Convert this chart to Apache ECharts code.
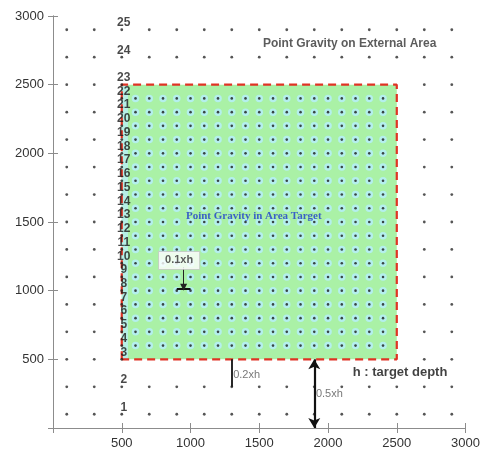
<!DOCTYPE html>
<html>
<head>
<meta charset="utf-8">
<script src="https://cdn.jsdelivr.net/npm/echarts@6/dist/echarts.min.js"></script>
<style>
  html, body { margin: 0; padding: 0; background: #fff; }
  #chart { width: 483px; height: 455px; }
</style>
</head>
<body>
<div id="chart"></div>
<script>
// Survey layout: coarse grid outside the target, dense grid inside it
const outerCoords = [100, 300, 500, 700, 900, 1100, 1300, 1500, 1700, 1900, 2100, 2300, 2500, 2700, 2900];
const innerCoords = [600, 700, 800, 900, 1000, 1100, 1200, 1300, 1400, 1500, 1600, 1700, 1800, 1900, 2000, 2100, 2200, 2300, 2400];

// Numbered stations along the x = 500 profile
const stationX = 500;
const stationNumbers = [1, 2, 3, 4, 5, 6, 7, 8, 9, 10, 11, 12, 13, 14, 15, 16, 17, 18, 19, 20, 21, 22, 23, 24, 25];
const stationY = [100, 300, 500, 600, 700, 800, 900, 1000, 1100, 1200, 1300, 1400, 1500, 1600, 1700, 1800, 1900, 2000, 2100, 2200, 2300, 2400, 2500, 2700, 2900];

// Target area bounds
const targetX = [500, 2500];
const targetY = [500, 2500];

// Axis tick labels
const tickValues = [0, 500, 1000, 1500, 2000, 2500, 3000];
const tickLabels = ['', '500', '1000', '1500', '2000', '2500', '3000'];

// Annotations
const spacingMark = { x: [900, 1000], y: 1015, arrowX: 950, arrowTop: 1170, boxX: 917, boxY: 1220, text: '0.1xh' };
const edgeMark = { x: 1300, y: [500, 300], text: '0.2xh', labelX: 1310, labelY: 385 };
const depthMark = { x: 1900, y: [500, 0], text: '0.5xh', labelX: 1912, labelY: 250 };
const depthNote = { x: 2180, y: 408, text: 'h : target depth' };
const outerTitle = { x: 2157, y: 2797, text: 'Point Gravity on External Area' };
const innerTitle = { x: 1460, y: 1546, text: 'Point Gravity in Area Target' };

const SANS = "'Liberation Sans', Arial, sans-serif";
const SERIF = "'Liberation Serif', 'Times New Roman', serif";

const inTarget = (x, y) => x >= targetX[0] && x <= targetX[1] && y >= targetY[0] && y <= targetY[1];

const outerPoints = [];
outerCoords.forEach(x => outerCoords.forEach(y => {
  if (x !== stationX && !inTarget(x, y)) outerPoints.push([x, y]);
}));
const innerPoints = [];
innerCoords.forEach(x => innerCoords.forEach(y => innerPoints.push([x, y])));
const stationPoints = stationY.map((y, i) => [stationX, y, stationNumbers[i]]);

const tickFmt = v => { const i = tickValues.indexOf(v); return i >= 0 ? tickLabels[i] : ''; };

const axisCommon = {
  type: 'value', min: 0, max: 3000, interval: 500,
  axisLine: { show: true, lineStyle: { color: '#8c8c8c', width: 1 } },
  axisTick: { show: true, inside: false, length: 5, lineStyle: { color: '#8c8c8c' } },
  splitLine: { show: false }
};

const textLabel = (t, extra) => Object.assign({
  show: true, formatter: t, position: 'right', distance: 0, fontFamily: SANS
}, extra);

const chart = echarts.init(document.getElementById('chart'), null, { renderer: 'canvas' });
chart.setOption({
  animation: false,
  backgroundColor: '#ffffff',
  grid: { left: 53, right: 17, top: 16, bottom: 27, containLabel: false },
  xAxis: [
    Object.assign({}, axisCommon, {
      position: 'bottom',
      axisLabel: { formatter: tickFmt, color: '#333', fontSize: 13, margin: 9, fontFamily: SANS }
    }),
    Object.assign({}, axisCommon, { position: 'top', axisLabel: { show: false } })
  ],
  yAxis: [
    Object.assign({}, axisCommon, {
      position: 'left',
      axisLabel: { formatter: tickFmt, color: '#333', fontSize: 13, margin: 9, fontFamily: SANS }
    }),
    Object.assign({}, axisCommon, { position: 'right', axisLabel: { show: false } })
  ],
  series: [
    // target area fill
    {
      type: 'line', data: [], z: 1,
      markArea: {
        silent: true,
        data: [
          [{ coord: [targetX[0], targetY[0]], itemStyle: { color: '#aaf1a6' } }, { coord: [targetX[1], targetY[1]] }],
          [{ coord: [targetX[0], targetY[0]], itemStyle: { color: '#b6efe6' } }, { coord: [targetX[0] + 45, targetY[1]] }]
        ]
      }
    },
    // halos around the dense points
    {
      type: 'scatter', data: innerPoints, symbolSize: 7.5, z: 2, silent: true,
      itemStyle: { color: '#b4efee', opacity: 1 }
    },
    {
      type: 'scatter', data: innerPoints, symbolSize: 2.6, z: 3, silent: true,
      itemStyle: { color: '#1a1a1a' }
    },
    {
      type: 'scatter', data: outerPoints, symbolSize: 2.8, z: 3, silent: true,
      itemStyle: { color: '#2a2a2a' }
    },
    // dashed outline of the target
    {
      type: 'line', z: 4, symbol: 'none', silent: true,
      data: [[targetX[0], targetY[0]], [targetX[0], targetY[1]], [targetX[1], targetY[1]], [targetX[1], targetY[0]], [targetX[0], targetY[0]]],
      lineStyle: { color: '#df3324', width: 2.2, type: [8, 5] }
    },
    // numbered stations
    {
      type: 'scatter', data: stationPoints, symbolSize: 2.8, z: 6, silent: true,
      itemStyle: { color: '#222' },
      label: {
        show: true, position: 'inside', offset: [2, -7],
        formatter: p => String(p.data[2]),
        color: '#1a1a1a', fontSize: 12, fontWeight: 'bold', fontFamily: SANS
      }
    },
    // annotation lines
    {
      type: 'line', data: [], z: 7, silent: true,
      markLine: {
        silent: true, animation: false, label: { show: false },
        data: [
          [{ coord: [spacingMark.x[0], spacingMark.y], symbol: 'none', lineStyle: { color: '#111', width: 2, type: 'solid' } },
           { coord: [spacingMark.x[1], spacingMark.y], symbol: 'none' }],
          [{ coord: [spacingMark.arrowX, spacingMark.arrowTop], symbol: 'none', lineStyle: { color: '#222', width: 1, type: 'solid' } },
           { coord: [spacingMark.arrowX, spacingMark.y + 10], symbol: 'triangle', symbolSize: [7, 7], symbolRotate: 180 }],
          [{ coord: [edgeMark.x, edgeMark.y[0]], symbol: 'none', lineStyle: { color: '#111', width: 1.8, type: 'solid' } },
           { coord: [edgeMark.x, edgeMark.y[1]], symbol: 'none' }],
          [{ coord: [depthMark.x, depthMark.y[0]], symbol: 'arrow', symbolSize: [9, 10], lineStyle: { color: '#111', width: 2.2, type: 'solid' } },
           { coord: [depthMark.x, depthMark.y[1]], symbol: 'arrow', symbolSize: [9, 10] }]
        ]
      }
    },
    // text annotations
    {
      type: 'scatter', z: 8, silent: true, symbolSize: 0,
      data: [
        { value: [outerTitle.x, outerTitle.y], label: textLabel(outerTitle.text, { position: 'inside', fontSize: 12, fontWeight: 'bold', color: '#333' }) },
        { value: [innerTitle.x, innerTitle.y], label: textLabel(innerTitle.text, { position: 'inside', fontSize: 11, fontWeight: 'bold', color: '#1d3ccf', fontFamily: SERIF }) },
        { value: [spacingMark.boxX, spacingMark.boxY], label: textLabel(spacingMark.text, { position: 'inside', fontSize: 11, fontWeight: 'bold', color: '#333', backgroundColor: '#ffffff', borderColor: '#c8c8c8', borderWidth: 1, padding: [3, 6, 3, 6] }) },
        { value: [edgeMark.labelX, edgeMark.labelY], label: textLabel(edgeMark.text, { fontSize: 11, color: '#555' }) },
        { value: [depthMark.labelX, depthMark.labelY], label: textLabel(depthMark.text, { fontSize: 11, color: '#555' }) },
        { value: [depthNote.x, depthNote.y], label: textLabel(depthNote.text, { fontSize: 13, fontWeight: 'bold', color: '#111' }) }
      ]
    }
  ]
});
</script>
</body>
</html>
